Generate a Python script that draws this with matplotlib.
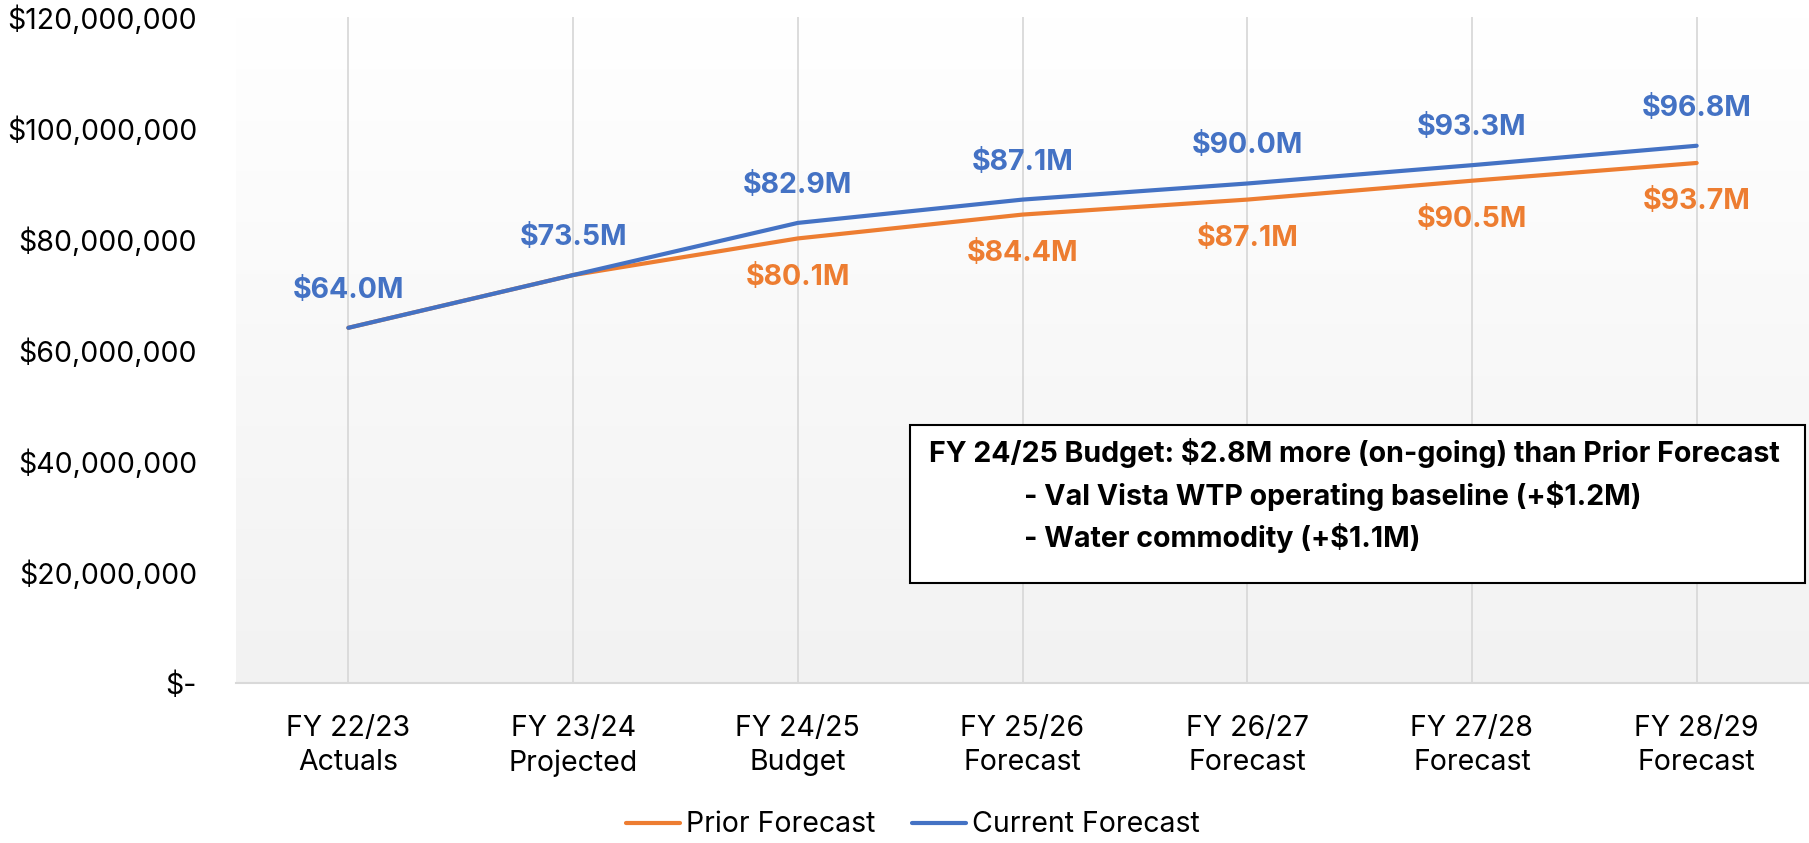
import matplotlib
matplotlib.use("Agg")
import matplotlib.pyplot as plt
import numpy as np
from matplotlib.ticker import FuncFormatter
from matplotlib.colors import LinearSegmentedColormap
from matplotlib.patches import Rectangle

categories = ["FY 22/23\nActuals", "FY 23/24\nProjected", "FY 24/25\nBudget",
              "FY 25/26\nForecast", "FY 26/27\nForecast", "FY 27/28\nForecast",
              "FY 28/29\nForecast"]
current_m = [64.0, 73.5, 82.9, 87.1, 90.0, 93.3, 96.8]
prior_m = [64.0, 73.5, 80.1, 84.4, 87.1, 90.5, 93.7]
prior_label_from = 2
yticks = [0, 20e6, 40e6, 60e6, 80e6, 100e6, 120e6]
box_lines = ["FY 24/25 Budget: $2.8M more (on-going) than Prior Forecast",
             "- Val Vista WTP operating baseline (+$1.2M)",
             "- Water commodity (+$1.1M)"]

BLUE = "#4472C4"
ORANGE = "#ED7D31"
TICKF = ["Inter", "DejaVu Sans"]
LABEL = ["Inter", "DejaVu Sans"]
BOXF = ["Inter", "DejaVu Sans"]

fig = plt.figure(figsize=(18.09, 8.43), dpi=100)
ax = fig.add_axes([236/1809, 1-683/843, 1-236/1809, (683-17)/843])

x = np.arange(len(categories))
cur = np.array(current_m) * 1e6
pri = np.array(prior_m) * 1e6

ax.set_xlim(-0.5, len(categories) - 0.5)
ax.set_ylim(0, 120e6)

# gradient background
cmap = LinearSegmentedColormap.from_list("g", ["#f2f2f2", "#ffffff"])
grad = np.linspace(0, 1, 256).reshape(-1, 1)
ax.imshow(grad, extent=[-0.5, len(categories) - 0.5, 0, 120e6], aspect="auto",
          cmap=cmap, origin="lower", zorder=0)

for xi in x:
    ax.axvline(xi, color="#d9d9d9", lw=1.3, zorder=1)

ax.plot(x, pri, color=ORANGE, lw=3.0, solid_capstyle="round", zorder=3, label="Prior Forecast")
ax.plot(x, cur, color=BLUE, lw=3.0, solid_capstyle="round", zorder=4, label="Current Forecast")

for xi, v in zip(x, current_m):
    ax.annotate(f"${v:.1f}M", (xi, v * 1e6), xytext=(0, 27), textcoords="offset points",
                ha="center", va="center", color=BLUE, fontsize=20.5, fontweight="bold",
                family=LABEL, zorder=5)
for xi, v in list(zip(x, prior_m))[prior_label_from:]:
    ax.annotate(f"${v:.1f}M", (xi, v * 1e6), xytext=(0, -28), textcoords="offset points",
                ha="center", va="center", color=ORANGE, fontsize=20.5, fontweight="bold",
                family=LABEL, zorder=5)

def fmt(v, pos):
    if v == 0:
        return "$-"
    return f"${v:,.0f}"

ax.set_yticks(yticks)
ax.yaxis.set_major_formatter(FuncFormatter(fmt))
ax.set_xticks(x)
ax.set_xticklabels(categories, linespacing=1.35)
ax.tick_params(axis="y", length=0, pad=28, labelsize=20.5)
ax.tick_params(axis="x", length=0, pad=23, labelsize=20.5)
for lab in ax.get_yticklabels() + ax.get_xticklabels():
    lab.set_family(TICKF)

for s in ["top", "right", "left"]:
    ax.spines[s].set_visible(False)
ax.spines["bottom"].set_color("#d9d9d9")
ax.spines["bottom"].set_linewidth(1.5)
ax.spines["bottom"].set_zorder(2)

# annotation box
fig.patches.append(Rectangle((910/1809, 1-583/843), (1805-910)/1809, (583-425)/843,
                             transform=fig.transFigure, facecolor="white",
                             edgecolor="black", lw=1.5, zorder=10))
t1 = fig.text(929/1809, 1-453/843, box_lines[0], fontsize=20, fontweight="bold",
              family=BOXF, va="center", ha="left", zorder=11)
t2 = fig.text(1024/1809, 1-496/843, box_lines[1], fontsize=20, fontweight="bold",
              family=BOXF, va="center", ha="left", zorder=11)
t3 = fig.text(1024/1809, 1-538/843, box_lines[2], fontsize=20, fontweight="bold",
              family=BOXF, va="center", ha="left", zorder=11)
fig.canvas.draw()
r = fig.canvas.get_renderer()
w = t1.get_window_extent(r).width
fs = 20 * 853 / w
for t in (t1, t2, t3):
    t.set_fontsize(fs)

leg = fig.legend(loc="center", bbox_to_anchor=(913/1809, 1-825/843), ncol=2, frameon=False,
                 prop={"family": TICKF, "size": 20.5}, handlelength=1.9,
                 handletextpad=0.2, columnspacing=1.3)

fig.savefig("out.png", dpi=100)
